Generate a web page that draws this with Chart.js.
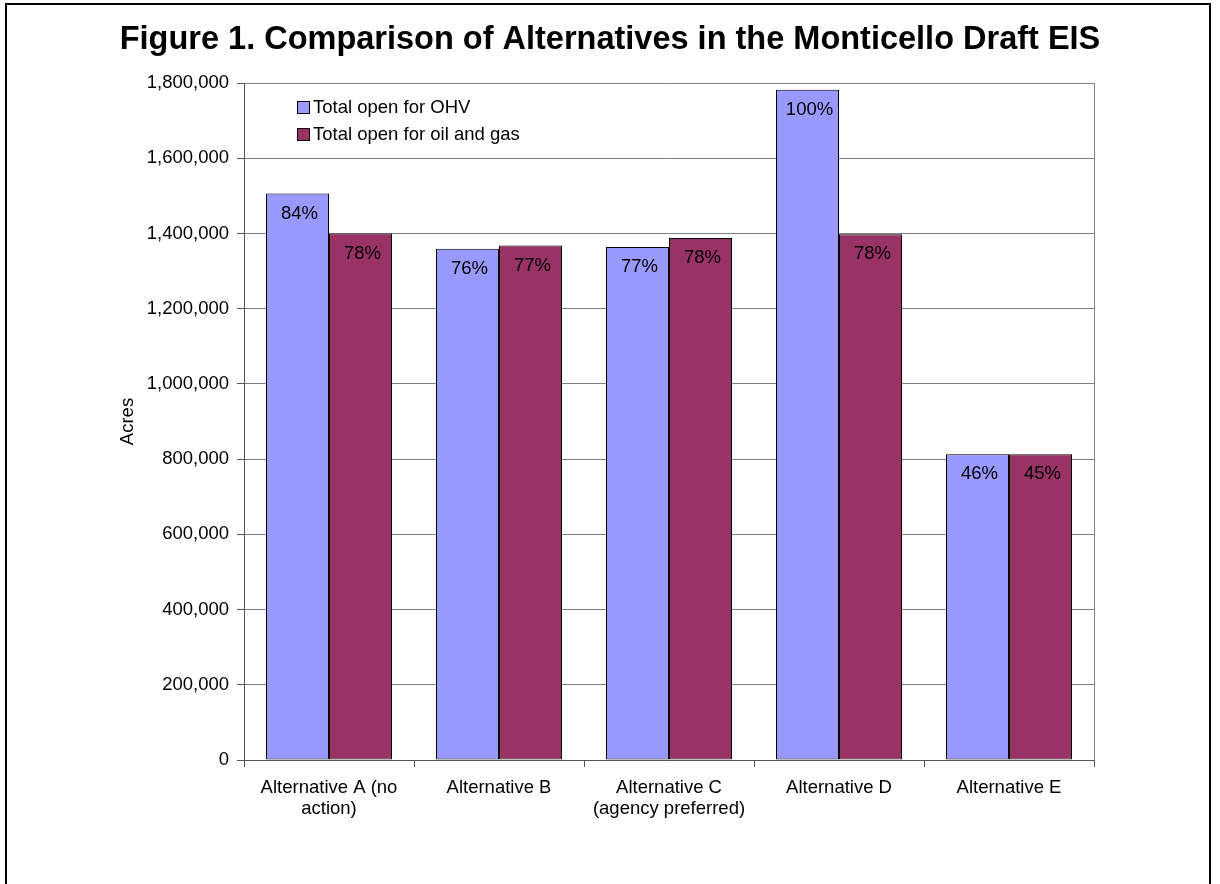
<!DOCTYPE html>
<html>
<head>
<meta charset="utf-8">
<script src="https://cdn.jsdelivr.net/npm/chart.js@4/dist/chart.umd.min.js"></script>
<style>
  html, body { margin: 0; padding: 0; background: #ffffff; width: 1220px; height: 884px; overflow: hidden; }
  #frame { position: absolute; left: 5px; top: 3px; width: 1206px; height: 920px; box-sizing: border-box; border: 2px solid #000; }
  #c { position: absolute; left: 0; top: 0; }
</style>
</head>
<body>
<div id="frame"></div>
<canvas id="c" width="1220" height="884"></canvas>
<script>
const titleText = 'Figure 1. Comparison of Alternatives in the Monticello Draft EIS';
const categories = [['Alternative A (no', 'action)'], 'Alternative B', ['Alternative C', '(agency preferred)'], 'Alternative D', 'Alternative E'];
const seriesNames = ['Total open for OHV', 'Total open for oil and gas'];
const ohvAcres = [1506000, 1359000, 1364000, 1782000, 813000];
const oilGasAcres = [1400000, 1368000, 1388000, 1398000, 813000];
const ohvPct = ['84%', '76%', '77%', '100%', '46%'];
const oilGasPct = ['78%', '77%', '78%', '78%', '45%'];
const yMin = 0, yMax = 1800000, yStep = 200000;
const yTitle = 'Acres';

const FONT = "'Liberation Sans', Arial, sans-serif";
const FS = 18.5;
const pctLabels = [ohvPct, oilGasPct];

const barLabelPlugin = {
  id: 'barLabels',
  afterDatasetsDraw(chart) {
    const ctx = chart.ctx;
    ctx.save();
    ctx.font = FS + 'px ' + FONT;
    ctx.fillStyle = '#000';
    ctx.textAlign = 'center';
    ctx.textBaseline = 'middle';
    chart.data.datasets.forEach((ds, di) => {
      const meta = chart.getDatasetMeta(di);
      meta.data.forEach((el, i) => {
        ctx.fillText(pctLabels[di][i], el.x + 2, el.y + 20);
      });
    });
    ctx.restore();
  }
};

const frameLegendPlugin = {
  id: 'frameLegend',
  afterDraw(chart) {
    const ctx = chart.ctx;
    const a = chart.chartArea;
    ctx.save();
    ctx.strokeStyle = '#808080';
    ctx.lineWidth = 1;
    ctx.beginPath();
    ctx.moveTo(Math.round(a.right) + 0.5, a.top);
    ctx.lineTo(Math.round(a.right) + 0.5, a.bottom);
    ctx.stroke();
    ctx.font = FS + 'px ' + FONT;
    ctx.textAlign = 'left';
    ctx.textBaseline = 'middle';
    chart.data.datasets.forEach((ds, i) => {
      const cy = a.top + 24 + i * 27;
      const bx = a.left + 53;
      ctx.fillStyle = ds.backgroundColor;
      ctx.fillRect(bx, cy - 6, 13, 13);
      ctx.strokeStyle = '#000';
      ctx.strokeRect(bx + 0.5, cy - 5.5, 12, 12);
      ctx.fillStyle = '#000';
      ctx.fillText(ds.label, bx + 16, cy + 1);
    });
    ctx.restore();
  }
};

new Chart(document.getElementById('c'), {
  type: 'bar',
  data: {
    labels: categories,
    datasets: [
      { label: seriesNames[0], data: ohvAcres, backgroundColor: '#9999FF', borderColor: '#000', borderWidth: 1, borderSkipped: false, yAxisID: 'y' },
      { label: seriesNames[1], data: oilGasAcres, backgroundColor: '#993366', borderColor: '#000', borderWidth: 1, borderSkipped: false, yAxisID: 'y' }
    ]
  },
  options: {
    responsive: false,
    animation: false,
    devicePixelRatio: 1,
    layout: { padding: 0 },
    datasets: { bar: { categoryPercentage: 126 / 170, barPercentage: 1.0 } },
    plugins: {
      legend: { display: false },
      tooltip: { enabled: false },
      title: {
        display: true,
        text: titleText,
        color: '#000',
        font: { family: FONT, size: 32.5, weight: 'bold', lineHeight: 1.2 },
        padding: { top: 21, bottom: 23 }
      }
    },
    scales: {
      x: {
        afterFit(scale) { scale.height = 124; },
        grid: { display: true, drawOnChartArea: false, drawTicks: true, tickLength: 7, tickColor: '#555', offset: true },
        border: { display: true, color: '#555', width: 1 },
        ticks: { color: '#000', font: { family: FONT, size: FS, lineHeight: 1.15 }, padding: 10, maxRotation: 0, autoSkip: false }
      },
      y: {
        position: 'left',
        min: yMin, max: yMax,
        afterFit(scale) { scale.width = 244; },
        grid: { color: '#808080', lineWidth: 1, tickLength: 7, tickColor: '#555' },
        border: { display: true, color: '#555', width: 1 },
        ticks: {
          stepSize: yStep, color: '#000', padding: 8,
          font: { family: FONT, size: FS },
          callback: v => Number(v).toLocaleString('en-US')
        },
        title: {
          display: true, text: yTitle, color: '#000',
          font: { family: FONT, size: FS, lineHeight: 1.2 },
          padding: { top: 117, bottom: 0 }
        }
      },
      yRight: {
        position: 'right',
        display: true,
        min: yMin, max: yMax,
        afterFit(scale) { scale.width = 126; },
        grid: { display: false },
        border: { display: false },
        ticks: { display: false }
      }
    }
  },
  plugins: [barLabelPlugin, frameLegendPlugin]
});
</script>
</body>
</html>
